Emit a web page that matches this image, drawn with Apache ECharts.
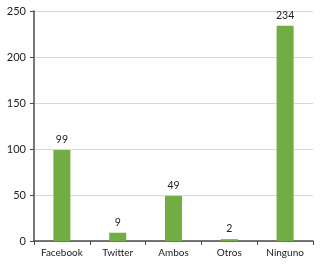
<!DOCTYPE html>
<html><head><meta charset="utf-8">
<script src="https://cdn.jsdelivr.net/npm/echarts@6/dist/echarts.min.js"></script>
<style>html,body{margin:0;padding:0;background:#fff}#c{width:320px;height:265px}</style>
</head><body><div id="c"></div>
<script>
var categories = ["Facebook", "Twitter", "Ambos", "Otros", "Ninguno"];
var values = [99, 9, 49, 2, 234];
var yTicks = [0, 50, 100, 150, 200, 250];

var chart = echarts.init(document.getElementById('c'), null, {renderer: 'canvas'});
chart.setOption({
  animation: false,
  backgroundColor: '#ffffff',
  textStyle: {fontFamily: 'Lato'},
  grid: {left: 34, right: 7, top: 11, bottom: 24, containLabel: false},
  xAxis: {
    type: 'category',
    data: categories,
    axisLine: {lineStyle: {color: '#4a4a4a', width: 1.5}},
    axisTick: {show: true, alignWithLabel: false, length: 4, lineStyle: {color: '#4a4a4a'}},
    axisLabel: {color: '#222', fontSize: 10, margin: 7, interval: 0, hideOverlap: false, fontFamily: 'Lato'}
  },
  yAxis: {
    type: 'value',
    min: yTicks[0], max: yTicks[yTicks.length - 1], interval: 50,
    axisLine: {show: true, lineStyle: {color: '#4a4a4a', width: 1.5}},
    axisTick: {show: true, length: 4, lineStyle: {color: '#4a4a4a'}},
    splitLine: {lineStyle: {color: '#d9d9d9', width: 1}},
    axisLabel: {color: '#222', fontSize: 11, margin: 8, fontFamily: 'Lato'}
  },
  series: [{
    type: 'bar',
    data: values,
    barWidth: 17,
    itemStyle: {color: '#72ad44'},
    label: {show: true, position: 'top', color: '#222', fontSize: 10.5, distance: 5, fontFamily: 'Lato'}
  }]
});
</script></body></html>
